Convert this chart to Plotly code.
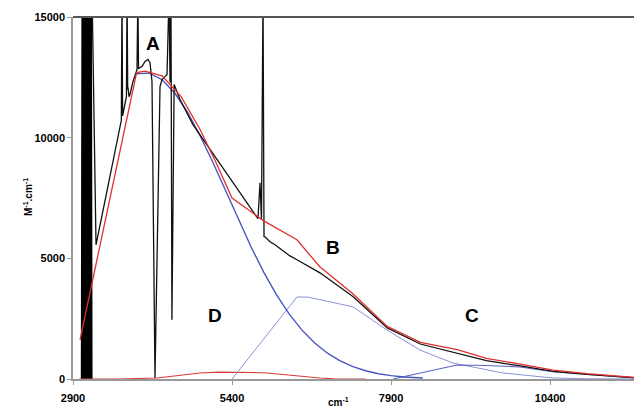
import plotly.graph_objects as go

# ---- data ----
# experimental spectrum: saturated noise band at low wavenumber
noise_x = [3035, 3045, 3055, 3065, 3075, 3085, 3095, 3105, 3115, 3125, 3135, 3145, 3155, 3165, 3175, 3185, 3195]
noise_y = [0, 16000, 0, 16000, 0, 16000, 0, 16000, 0, 16000, 0, 16000, 0, 16000, 0, 16000, 0]

exp_x = [3200, 3262, 3660, 3670, 3680, 3740, 3750, 3760, 3765, 3780, 3796, 3843, 3906, 3920, 3930,
         3985, 4032, 4079, 4110, 4142, 4189, 4268, 4299, 4346, 4378, 4410, 4425, 4440, 4455, 4490,
         4582, 4786, 5290, 5792, 5808, 5840, 5863, 5887, 5903, 5918, 5997, 6075, 6154, 6311, 6421,
         6783, 7300, 7840, 8360, 8940, 9400, 9930, 10450, 10980, 11500, 11850]
exp_y = [16000, 5560, 10720, 16000, 10900, 11700, 16000, 12000, 12080, 11700, 11790, 12330, 12820, 16000, 12870,
         12950, 13160, 13240, 13110, 12330, 40, 12120, 12410, 12530, 12620, 16000, 12300, 16000, 2450, 12200,
         11580, 10540, 8600, 6680, 6640, 8130, 6600, 16000, 5900, 5890, 5690, 5560, 5400, 5100, 4940,
         4400, 3420, 2120, 1450, 1080, 760, 540, 320, 190, 90, 30]

# total fit (red)
fit_x = [3010, 3900, 4030, 4300, 4600, 4900, 5150, 5400, 5900, 6420, 6780, 7300, 7840, 8360, 8940,
         9400, 9930, 10450, 10980, 11500, 11850]
fit_y = [1620, 12700, 12760, 12560, 11700, 10330, 8960, 7500, 6550, 5770, 4650, 3530, 2180, 1520, 1220,
         850, 620, 370, 220, 100, 40]

# band A (blue)
a_x = [3900, 4100, 4300, 4500, 4700, 4900, 5100, 5300, 5500, 5700, 5900, 6100, 6300, 6500, 6700,
       6900, 7100, 7300, 7500, 7700, 7900, 8100, 8400]
a_y = [12650, 12675, 12400, 11850, 11060, 10070, 8970, 7790, 6600, 5470, 4420, 3490, 2690, 2025, 1490,
       1070, 750, 510, 340, 220, 140, 85, 40]

# band B (light blue)
b_x = [5400, 6421, 6600, 6783, 7302, 7836, 8355, 8873, 9400, 9660, 10446, 11000, 11850]
b_y = [0, 3400, 3390, 3280, 2990, 2030, 1200, 660, 380, 250, 40, 10, 0]

# band C (blue)
c_x = [7930, 8936, 9400, 9927, 10446, 10980, 11500, 11850]
c_y = [0, 580, 560, 500, 300, 180, 80, 30]

# band D (red)
d_x = [3000, 3600, 4220, 4600, 4896, 5200, 5415, 5700, 5950, 6300, 6783, 7000, 7500]
d_y = [0, 0, 40, 150, 250, 285, 290, 270, 250, 150, 40, 10, 0]

x_ticks = [2900, 5400, 7900, 10400]
y_ticks = [0, 5000, 10000, 15000]

labels = ["A", "B", "C", "D"]
label_x = [4158, 6987, 9172, 5132]
label_y = [13900, 5440, 2615, 2615]

# ---- figure ----
fig = go.Figure()
fig.add_trace(go.Scatter(x=noise_x, y=noise_y, mode="lines", line=dict(color="#000000", width=1.6), hoverinfo="skip"))
fig.add_trace(go.Scatter(x=d_x, y=d_y, mode="lines", line=dict(color="#d83a3a", width=1.1)))
fig.add_trace(go.Scatter(x=b_x, y=b_y, mode="lines", line=dict(color="#7a86d0", width=0.9)))
fig.add_trace(go.Scatter(x=c_x, y=c_y, mode="lines", line=dict(color="#5a66c0", width=1.1)))
fig.add_trace(go.Scatter(x=a_x, y=a_y, mode="lines", line=dict(color="#4a56c0", width=1.4)))
fig.add_trace(go.Scatter(x=exp_x, y=exp_y, mode="lines", line=dict(color="#111111", width=1.3)))
fig.add_trace(go.Scatter(x=fit_x, y=fit_y, mode="lines", line=dict(color="#e0302e", width=1.3)))

for t, lx, ly in zip(labels, label_x, label_y):
    fig.add_annotation(x=lx, y=ly, text="<b>%s</b>" % t, showarrow=False,
                       font=dict(family="Liberation Sans, Arial", size=19, color="#000"))

fig.add_annotation(xref="paper", yref="paper", x=0.466, y=-0.086, text="<b>cm<sup>-1</sup></b>",
                   showarrow=False, font=dict(family="Liberation Sans, Arial", size=10, color="#000"))
fig.add_annotation(xref="paper", yref="paper", x=-0.093, y=0.503, text="<b>M<sup>-1</sup>.cm<sup>-1</sup></b>",
                   textangle=-90, showarrow=False, font=dict(family="Liberation Sans, Arial", size=10, color="#000"))

fig.add_shape(type="line", xref="paper", yref="paper", x0=0, x1=1, y0=1, y1=1,
              line=dict(color="#555555", width=2))

# page body adds an 8px offset, so the figure is sized to end at the window edge
fig.update_layout(
    width=634, height=412,
    margin=dict(l=65, r=0, t=9, b=41, autoexpand=False),
    paper_bgcolor="white", plot_bgcolor="white",
    showlegend=False,
    font=dict(family="Liberation Sans, Arial", size=11, color="#000"),
    xaxis=dict(range=[2900, 11845], tickmode="array", tickvals=x_ticks,
               ticktext=["<b>%d</b>" % v for v in x_ticks], automargin=False,
               showgrid=False, zeroline=False, showline=True, linecolor="#999999", linewidth=2,
               ticks="outside", ticklen=4, tickcolor="#999999", ticklabelstandoff=4),
    yaxis=dict(range=[0, 15000], tickmode="array", tickvals=y_ticks,
               ticktext=["<b>%d</b>" % v for v in y_ticks], automargin=False,
               showgrid=False, zeroline=False, showline=True, linecolor="#999999", linewidth=1.5,
               ticks="outside", ticklen=4, tickcolor="#999999"),
)

fig.write_html("out.html")
